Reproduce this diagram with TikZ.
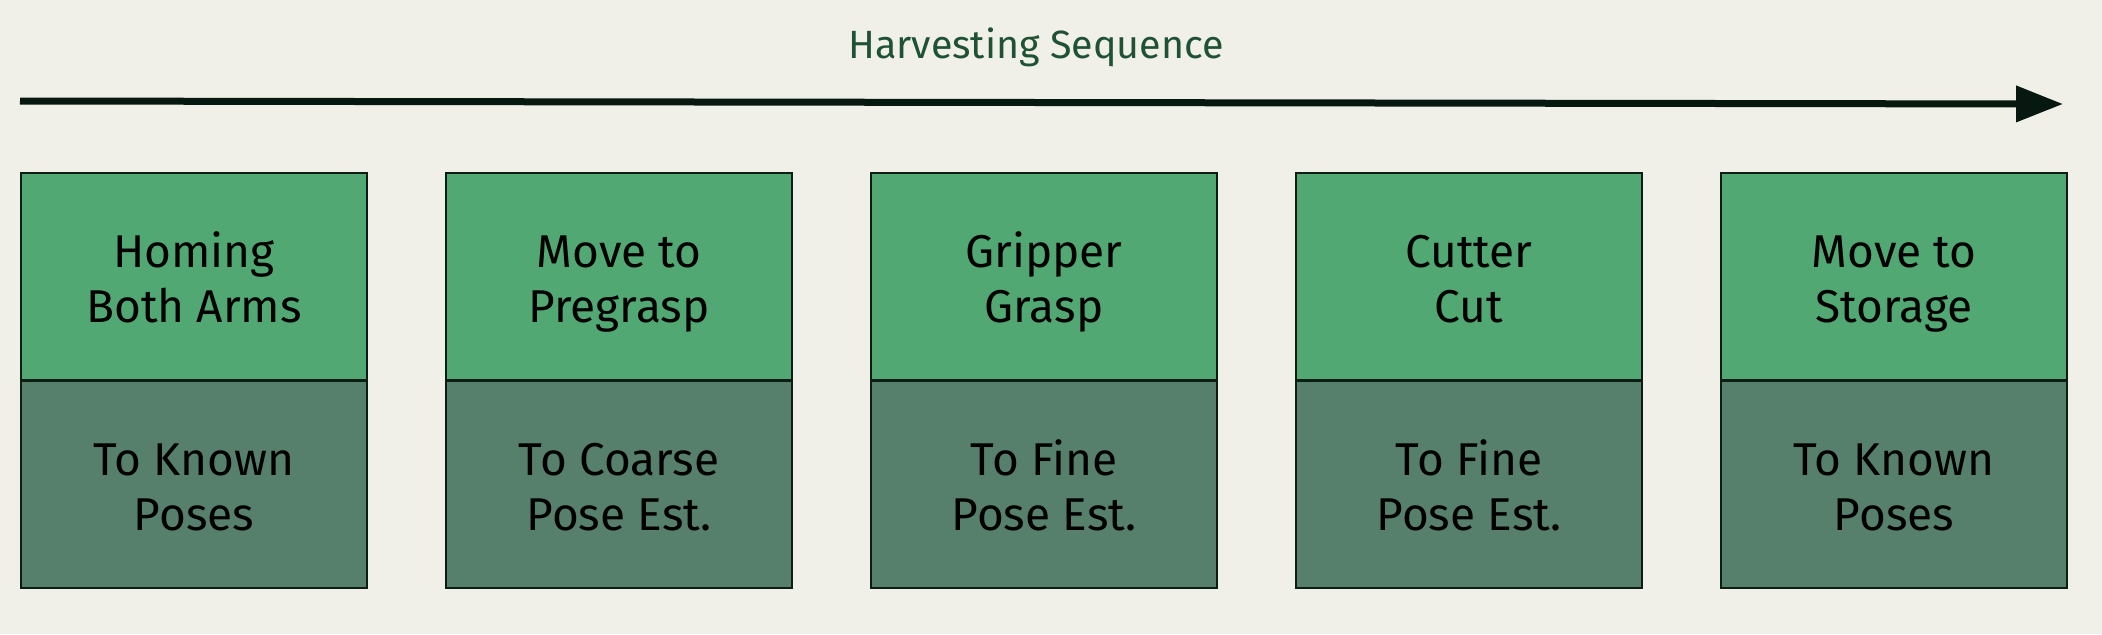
\documentclass[tikz,border=0pt]{standalone}
\usepackage{fontspec}
\setmainfont{Fira Sans}
\usetikzlibrary{arrows.meta}
\definecolor{bg}{RGB}{240,240,232}
\definecolor{topfill}{RGB}{82,168,114}
\definecolor{botfill}{RGB}{87,128,108}
\definecolor{edge}{RGB}{12,30,20}
\definecolor{arrowc}{RGB}{6,24,15}
\definecolor{titlec}{RGB}{31,81,53}
\newcommand\tl[2]{\rule{0pt}{25.5pt}#1\\#2\rule[-7pt]{0pt}{7pt}}
\tikzset{
  topbox/.style={draw=edge, line width=1pt, fill=topfill, minimum width=173pt, minimum height=103.5pt, anchor=north west, align=center, inner sep=0pt, font=\fontsize{23}{27.5}\selectfont, text=black},
  botbox/.style={topbox, fill=botfill},
  titletext/.style={text=titlec, font=\fontsize{19.7}{23}\selectfont},
}
\begin{document}
\begin{tikzpicture}[x=0.5pt,y=-0.5pt]
\fill[bg] (0,0) rectangle (2102,634);
\useasboundingbox (0,0) rectangle (2102,634);
\node[titletext] (title) at (1036,47) {Harvesting Sequence};
\coordinate (as) at (20,101);
\coordinate (ae) at (2063,104);
\draw[arrowc, line width=3.5pt, -{Triangle[length=23.5pt,width=17.5pt]}] (as) -- (ae);
\node[topbox] (t1) at (20,172) {\tl{Homing}{Both Arms}};
\node[botbox] (b1) at (20,379.5) {\tl{To Known}{Poses}};
\node[topbox] (t2) at (445,172) {\tl{Move to}{Pregrasp}};
\node[botbox] (b2) at (445,379.5) {\tl{To Coarse}{Pose Est.}};
\node[topbox] (t3) at (870,172) {\tl{Gripper}{Grasp}};
\node[botbox] (b3) at (870,379.5) {\tl{To Fine}{Pose Est.}};
\node[topbox] (t4) at (1295,172) {\tl{Cutter}{Cut}};
\node[botbox] (b4) at (1295,379.5) {\tl{To Fine}{Pose Est.}};
\node[topbox] (t5) at (1720,172) {\tl{Move to}{Storage}};
\node[botbox] (b5) at (1720,379.5) {\tl{To Known}{Poses}};
\end{tikzpicture}
\end{document}
